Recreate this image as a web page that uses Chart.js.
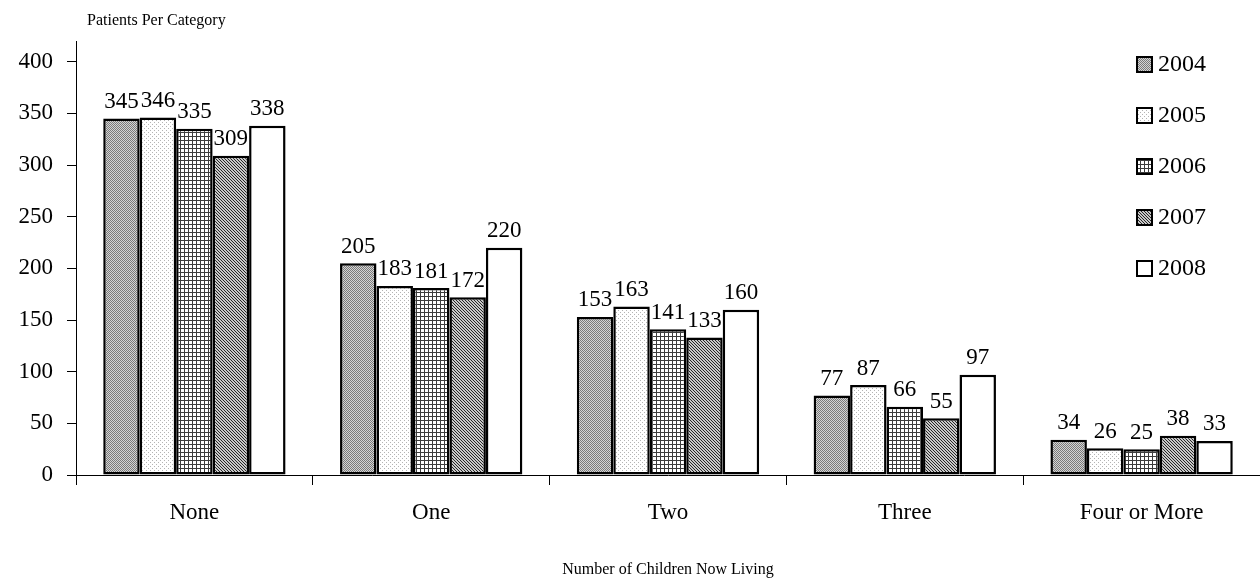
<!DOCTYPE html>
<html>
<head>
<meta charset="utf-8">
<script src="https://cdn.jsdelivr.net/npm/chart.js@4/dist/chart.umd.min.js"></script>
<style>
  html, body { margin: 0; padding: 0; background: #fff; }
  #wrap { width: 1260px; height: 582px; }
</style>
</head>
<body>
<div id="wrap"><canvas id="myChart" width="1260" height="582"></canvas></div>
<script>
'use strict'

// === DATA ===
const categories = ['None', 'One', 'Two', 'Three', 'Four or More']
const years = ['2004', '2005', '2006', '2007', '2008']
const v2004 = [345, 205, 153, 77, 34]
const v2005 = [346, 183, 163, 87, 26]
const v2006 = [335, 181, 141, 66, 25]
const v2007 = [309, 172, 133, 55, 38]
const v2008 = [338, 220, 160, 97, 33]
const yTicks = [0, 50, 100, 150, 200, 250, 300, 350, 400]

const FONT = "'Liberation Serif', 'Times New Roman', serif"

// === PATTERNS ===
function makePattern(size, bg, draw) {
  const c = document.createElement('canvas')
  c.width = size
  c.height = size
  const g = c.getContext('2d')
  g.fillStyle = bg
  g.fillRect(0, 0, size, size)
  draw(g)
  return g.createPattern(c, 'repeat')
}
const px = (g, color, pts) => {
  g.fillStyle = color
  pts.forEach(p => g.fillRect(p[0], p[1], 1, 1))
}

const fills = [
  // 2004 fine dark dots on grey
  makePattern(2, '#d4d4d4', g => px(g, '#7a7a7a', [[0, 0], [1, 1]])),
  // 2005 sparse light dots
  makePattern(4, '#ffffff', g => px(g, '#b4b4b4', [[0, 0], [2, 2]])),
  // 2006 small grid
  makePattern(4, '#ffffff', g => {
    g.fillStyle = '#3c3c3c'
    g.fillRect(0, 0, 4, 1)
    g.fillRect(0, 0, 1, 4)
  }),
  // 2007 diagonal lines
  makePattern(3, '#c8c8c8', g => px(g, '#262626', [[0, 0], [1, 1], [2, 2]])),
  // 2008 plain
  '#ffffff'
]

const series = [v2004, v2005, v2006, v2007, v2008]

// === PLUGINS ===
const valueLabels = {
  id: 'valueLabels',
  afterDatasetsDraw(chart) {
    const ctx = chart.ctx
    ctx.save()
    ctx.font = '23px ' + FONT
    ctx.fillStyle = '#000'
    ctx.textAlign = 'center'
    ctx.textBaseline = 'bottom'
    const n = chart.data.labels.length
    for (let i = 0; i < n; i++) {
      let prev = null
      chart.data.datasets.forEach((ds, d) => {
        const bar = chart.getDatasetMeta(d).data[i]
        const txt = String(ds.data[i])
        const w = ctx.measureText(txt).width
        let y = bar.y - 5
        const box = { l: bar.x - w / 2, r: bar.x + w / 2 }
        if (prev && box.l < prev.r - 2 && y > prev.top && y - 18 < prev.y) {
          y = prev.top - 1
        }
        ctx.fillText(txt, bar.x, y)
        prev = { r: box.r, y: y, top: y - 18 }
      })
    }
    ctx.restore()
  }
}

const boxLegend = {
  id: 'boxLegend',
  afterDraw(chart) {
    const ctx = chart.ctx
    const area = chart.chartArea
    ctx.save()
    ctx.font = '24px ' + FONT
    ctx.textBaseline = 'middle'
    chart.data.datasets.forEach((ds, d) => {
      const x = area.right - 123
      const y = area.top + 23 + d * 51
      ctx.fillStyle = ds.backgroundColor
      ctx.fillRect(x, y - 7, 15, 15)
      ctx.lineWidth = 2
      ctx.strokeStyle = '#000'
      ctx.strokeRect(x, y - 7, 15, 15)
      ctx.fillStyle = '#000'
      ctx.fillText(ds.label, x + 21, y + 1)
    })
    ctx.restore()
  }
}

const yTitle = {
  id: 'yTitle',
  afterDraw(chart) {
    const ctx = chart.ctx
    ctx.save()
    ctx.font = '16px ' + FONT
    ctx.fillStyle = '#000'
    ctx.textBaseline = 'middle'
    ctx.fillText('Patients Per Category', 87, 21)
    ctx.restore()
  }
}

// === CHART ===
const ctx = document.getElementById('myChart')
const myChart = new Chart(ctx, {
  type: 'bar',
  data: {
    labels: categories,
    datasets: years.map((y, i) => ({
      label: y,
      data: series[i],
      backgroundColor: fills[i],
      borderColor: '#000',
      borderWidth: 2.5,
      borderSkipped: false,
      barPercentage: 1,
      categoryPercentage: 0.77
    }))
  },
  options: {
    responsive: false,
    animation: false,
    layout: { padding: { top: 41, right: 0, left: 0, bottom: 0 } },
    plugins: {
      legend: { display: false },
      tooltip: { enabled: false }
    },
    scales: {
      x: {
        afterFit(scale) { scale.height = 107 },
        grid: {
          offset: true,
          drawOnChartArea: false,
          drawTicks: true,
          tickLength: 10,
          color: '#000',
          tickColor: '#000'
        },
        border: { color: '#000', width: 1 },
        ticks: {
          color: '#000',
          font: { family: FONT, size: 23 },
          padding: 14
        },
        title: {
          display: true,
          text: 'Number of Children Now Living',
          color: '#000',
          font: { family: FONT, size: 16 },
          padding: { top: 0, bottom: 3 }
        }
      },
      y: {
        min: 0,
        max: 420,
        afterFit(scale) { scale.width = 76 },
        afterBuildTicks(scale) { scale.ticks = yTicks.map(v => ({ value: v })) },
        grid: {
          drawOnChartArea: false,
          drawTicks: true,
          tickLength: 9,
          tickColor: '#000'
        },
        border: { color: '#000', width: 1 },
        ticks: {
          color: '#000',
          font: { family: FONT, size: 23 },
          padding: 14
        }
      }
    }
  },
  plugins: [valueLabels, boxLegend, yTitle]
})
</script>
</body>
</html>
